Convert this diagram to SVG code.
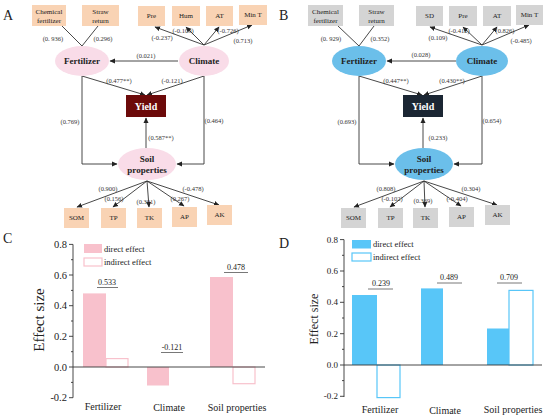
<svg xmlns="http://www.w3.org/2000/svg" width="550" height="419" viewBox="0 0 550 419">
<defs>
<marker id="ah" markerWidth="6" markerHeight="6" refX="5" refY="3" orient="auto" markerUnits="userSpaceOnUse"><path d="M0,0.5 L5.5,3 L0,5.5 Z" fill="#222"/></marker>
<style>
text{font-family:"Liberation Serif","Times New Roman",serif;fill:#222}
.lbl{font-size:14px}
.bx{font-size:7px;text-anchor:middle}
.co{font-size:6.5px;text-anchor:middle;fill:#333}
.el{font-size:9px;font-weight:bold;text-anchor:middle}
.yl{font-size:10px;font-weight:bold;text-anchor:middle;fill:#fff}
.ln{stroke:#333;stroke-width:0.9;fill:none}
.arr{stroke:#333;stroke-width:0.9;fill:none;marker-end:url(#ah)}
.boxA{fill:#F9D3B4}
.boxB{fill:#D4D4D4}
.elA{fill:#F9DCE8}
.elB{fill:#6BBFEA}
.tk{font-size:9px;text-anchor:end}
.tkc{font-size:10.5px;text-anchor:end}
.ax{stroke:#333;stroke-width:0.9;fill:none}
.xl{font-size:10px;text-anchor:middle}
.lg{font-size:8.5px}
.an{font-size:8px;text-anchor:middle}
.anl{stroke:#555;stroke-width:0.8}
.pk{fill:#F8C1CC}
.pko{fill:#fff;stroke:#F8C1CC;stroke-width:1.2}
.bl{fill:#58C6F8}
.blo{fill:#fff;stroke:#58C6F8;stroke-width:1.2}
</style>
</defs>

<!-- Panel labels -->
<text class="lbl" x="3" y="20">A</text>
<text class="lbl" x="279" y="20">B</text>
<text class="lbl" x="3" y="243">C</text>
<text class="lbl" x="279" y="248">D</text>

<!-- ===== Panel A connectors ===== -->
<g id="connectors-A">
<line class="ln" x1="62" y1="26" x2="82" y2="46"/>
<line class="ln" x1="98" y1="26" x2="82" y2="46"/>
<line class="arr" x1="204" y1="45" x2="155" y2="27"/>
<line class="arr" x1="204" y1="45" x2="186" y2="27"/>
<line class="arr" x1="204" y1="45" x2="219" y2="27"/>
<line class="arr" x1="204" y1="45" x2="252" y2="25"/>
<line class="arr" x1="178" y1="61" x2="110" y2="61"/>
<line class="arr" x1="82" y1="76" x2="145" y2="95"/>
<line class="arr" x1="204" y1="76" x2="147" y2="95"/>
<polyline class="arr" points="82,76 82,164 117,164"/>
<polyline class="arr" points="204,76 204,164 177,164"/>
<line class="arr" x1="146" y1="148" x2="146" y2="118"/>
<line class="arr" x1="147" y1="181" x2="77" y2="207"/>
<line class="arr" x1="147" y1="181" x2="113" y2="207"/>
<line class="arr" x1="147" y1="181" x2="149" y2="207"/>
<line class="arr" x1="147" y1="181" x2="184" y2="206"/>
<line class="arr" x1="147" y1="181" x2="219" y2="205"/>
<text class="co" x="53" y="41">(0. 936)</text>
<text class="co" x="103" y="41">(0.296)</text>
<text class="co" x="162" y="40">(-0.237)</text>
<text class="co" x="183" y="33">(-0.109)</text>
<text class="co" x="228" y="33">(-0.726)</text>
<text class="co" x="243" y="43">(0.713)</text>
<text class="co" x="146" y="58">(0.021)</text>
<text class="co" x="119" y="83">(0.477**)</text>
<text class="co" x="172" y="83">(-0.121)</text>
<text class="co" x="70" y="124">(0.769)</text>
<text class="co" x="214" y="123">(0.464)</text>
<text class="co" x="161" y="140">(0.587**)</text>
<text class="co" x="108" y="191">(0.900)</text>
<text class="co" x="114" y="201">(0.156)</text>
<text class="co" x="146" y="204">(0.301)</text>
<text class="co" x="180" y="201">(0.267)</text>
<text class="co" x="193" y="191">(-0.478)</text>
</g>

<!-- Panel A nodes -->
<g id="A-chem"><rect class="boxA" x="32" y="5" width="34" height="21"/><text class="bx" x="49" y="14">Chemical</text><text class="bx" x="49" y="23">fertilizer</text></g>
<g id="A-straw"><rect class="boxA" x="82" y="5" width="37" height="21"/><text class="bx" x="100.5" y="14">Straw</text><text class="bx" x="100.5" y="23">return</text></g>
<g id="A-pre"><rect class="boxA" x="138" y="6" width="27" height="20"/><text class="bx" x="151.5" y="18">Pre</text></g>
<g id="A-hum"><rect class="boxA" x="172" y="6" width="28" height="20"/><text class="bx" x="186" y="18">Hum</text></g>
<g id="A-at"><rect class="boxA" x="206" y="6" width="27" height="20"/><text class="bx" x="219.5" y="18">AT</text></g>
<g id="A-mint"><rect class="boxA" x="239" y="5" width="28" height="20"/><text class="bx" x="253" y="17">Min T</text></g>
<g id="A-fert"><ellipse class="elA" cx="82" cy="61" rx="27" ry="15"/><text class="el" x="82" y="64">Fertilizer</text></g>
<g id="A-clim"><ellipse class="elA" cx="204" cy="61" rx="25" ry="15"/><text class="el" x="204" y="64">Climate</text></g>
<g id="A-yield"><rect x="126" y="95" width="40" height="22" fill="#6C0A0A"/><text class="yl" x="146" y="110">Yield</text></g>
<g id="A-soil"><ellipse class="elA" cx="147" cy="164" rx="29" ry="16"/><text class="el" x="147" y="162">Soil</text><text class="el" x="147" y="173">properties</text></g>
<g id="A-som"><rect class="boxA" x="64" y="208" width="25" height="20"/><text class="bx" x="76.5" y="220">SOM</text></g>
<g id="A-tp"><rect class="boxA" x="101" y="208" width="25" height="20"/><text class="bx" x="113.5" y="220">TP</text></g>
<g id="A-tk"><rect class="boxA" x="137" y="208" width="25" height="20"/><text class="bx" x="149.5" y="220">TK</text></g>
<g id="A-ap"><rect class="boxA" x="172" y="207" width="25" height="20"/><text class="bx" x="184.5" y="219">AP</text></g>
<g id="A-ak"><rect class="boxA" x="207" y="205" width="25" height="20"/><text class="bx" x="219.5" y="217">AK</text></g>

<!-- ===== Panel B connectors ===== -->
<g id="connectors-B">
<line class="ln" x1="338" y1="26" x2="359" y2="46"/>
<line class="ln" x1="374" y1="26" x2="359" y2="46"/>
<line class="arr" x1="482" y1="45" x2="430" y2="27"/>
<line class="arr" x1="482" y1="45" x2="463" y2="27"/>
<line class="arr" x1="482" y1="45" x2="497" y2="27"/>
<line class="arr" x1="482" y1="45" x2="529" y2="25"/>
<line class="arr" x1="456" y1="61" x2="387" y2="61"/>
<line class="arr" x1="359" y1="76" x2="422" y2="95"/>
<line class="arr" x1="482" y1="76" x2="424" y2="95"/>
<polyline class="arr" points="359,76 359,164 394,164"/>
<polyline class="arr" points="482,76 482,164 454,164"/>
<line class="arr" x1="423" y1="148" x2="423" y2="118"/>
<line class="arr" x1="424" y1="181" x2="354" y2="207"/>
<line class="arr" x1="424" y1="181" x2="390" y2="207"/>
<line class="arr" x1="424" y1="181" x2="425" y2="207"/>
<line class="arr" x1="424" y1="181" x2="461" y2="206"/>
<line class="arr" x1="424" y1="181" x2="497" y2="205"/>
<text class="co" x="331" y="41">(0. 929)</text>
<text class="co" x="380" y="41">(0.352)</text>
<text class="co" x="438" y="40">(0.109)</text>
<text class="co" x="459" y="33">(-0.412)</text>
<text class="co" x="505" y="33">(0.826)</text>
<text class="co" x="521" y="43">(-0.485)</text>
<text class="co" x="421" y="57">(0.028)</text>
<text class="co" x="396" y="83">(0.447**)</text>
<text class="co" x="452" y="83">(0.430**)</text>
<text class="co" x="347" y="124">(0.693)</text>
<text class="co" x="492" y="123">(0.654)</text>
<text class="co" x="438" y="140">(0.233)</text>
<text class="co" x="386" y="191">(0.808)</text>
<text class="co" x="392" y="201">(-0.102)</text>
<text class="co" x="423" y="203">(0.369)</text>
<text class="co" x="457" y="201">(-0.404)</text>
<text class="co" x="471" y="191">(0.304)</text>
</g>

<!-- Panel B nodes -->
<g id="B-chem"><rect class="boxB" x="308" y="5" width="35" height="21"/><text class="bx" x="325.5" y="14">Chemical</text><text class="bx" x="325.5" y="23">fertilizer</text></g>
<g id="B-straw"><rect class="boxB" x="359" y="5" width="35" height="21"/><text class="bx" x="376.5" y="14">Straw</text><text class="bx" x="376.5" y="23">return</text></g>
<g id="B-sd"><rect class="boxB" x="416" y="6" width="27" height="20"/><text class="bx" x="429.5" y="18">SD</text></g>
<g id="B-pre"><rect class="boxB" x="449" y="6" width="28" height="20"/><text class="bx" x="463" y="18">Pre</text></g>
<g id="B-at"><rect class="boxB" x="483" y="6" width="28" height="20"/><text class="bx" x="497" y="18">AT</text></g>
<g id="B-mint"><rect class="boxB" x="516" y="5" width="27" height="20"/><text class="bx" x="529.5" y="17">Min T</text></g>
<g id="B-fert"><ellipse class="elB" cx="359" cy="61" rx="27" ry="15"/><text class="el" x="359" y="64">Fertilizer</text></g>
<g id="B-clim"><ellipse class="elB" cx="482" cy="61" rx="26" ry="15"/><text class="el" x="482" y="64">Climate</text></g>
<g id="B-yield"><rect x="403" y="95" width="40" height="22" fill="#1B2633"/><text class="yl" x="423" y="110">Yield</text></g>
<g id="B-soil"><ellipse class="elB" cx="424" cy="164" rx="29" ry="16"/><text class="el" x="424" y="162">Soil</text><text class="el" x="424" y="173">properties</text></g>
<g id="B-som"><rect class="boxB" x="341" y="208" width="25" height="20"/><text class="bx" x="353.5" y="220">SOM</text></g>
<g id="B-tp"><rect class="boxB" x="378" y="208" width="25" height="20"/><text class="bx" x="390.5" y="220">TP</text></g>
<g id="B-tk"><rect class="boxB" x="413" y="208" width="25" height="20"/><text class="bx" x="425.5" y="220">TK</text></g>
<g id="B-ap"><rect class="boxB" x="449" y="207" width="25" height="20"/><text class="bx" x="461.5" y="219">AP</text></g>
<g id="B-ak"><rect class="boxB" x="485" y="205" width="25" height="20"/><text class="bx" x="497.5" y="217">AK</text></g>

<!-- ===== Panel C chart ===== -->
<g id="chart-C">
<rect class="pk" x="83" y="293.4" width="23" height="73.6"/>
<rect class="pko" x="106" y="358.6" width="22" height="8.4"/>
<rect class="pk" x="147" y="367" width="22" height="18.5"/>
<rect class="pk" x="210" y="277" width="23" height="90"/>
<rect class="pko" x="233" y="367" width="22" height="16.7"/>
<path class="ax" d="M73,244.4 V397.7 M73,367 H265"/>
<path class="ax" d="M69,244.4 H73 M69,275 H73 M69,305.7 H73 M69,336.3 H73 M69,367 H73 M69,397.7 H73 M71,259.7 H73 M71,290.4 H73 M71,321 H73 M71,351.7 H73 M71,382.4 H73"/>
<text class="tkc" x="67" y="248">0.8</text>
<text class="tkc" x="67" y="278.5">0.6</text>
<text class="tkc" x="67" y="309.2">0.4</text>
<text class="tkc" x="67" y="339.8">0.2</text>
<text class="tkc" x="67" y="370.5">0.0</text>
<text class="tkc" x="67" y="401.2">-0.2</text>
<text x="44" y="320" font-size="15" text-anchor="middle" transform="rotate(-90 44 320)">Effect size</text>
<text class="xl" x="103" y="410">Fertilizer</text>
<text class="xl" x="169" y="411">Climate</text>
<text class="xl" x="237" y="411">Soil properties</text>
<rect class="pk" x="84" y="244" width="18" height="9"/>
<rect class="pko" x="84" y="258" width="18" height="8"/>
<text class="lg" x="104" y="252">direct effect</text>
<text class="lg" x="104" y="265">indirect effect</text>
<text class="an" x="107" y="285">0.533</text>
<line class="anl" x1="97" y1="287.5" x2="118" y2="287.5"/>
<text class="an" x="172" y="350">-0.121</text>
<line class="anl" x1="161" y1="352.5" x2="183" y2="352.5"/>
<text class="an" x="236" y="270">0.478</text>
<line class="anl" x1="224" y1="272.5" x2="248" y2="272.5"/>
</g>

<!-- ===== Panel D chart ===== -->
<g id="chart-D">
<rect class="bl" x="352" y="295" width="25" height="70"/>
<rect class="blo" x="377" y="365" width="23" height="32.6"/>
<rect class="bl" x="421" y="288.4" width="22" height="76.6"/>
<rect class="bl" x="487" y="328.5" width="22" height="36.5"/>
<rect class="blo" x="509" y="290.4" width="24" height="74.6"/>
<path class="ax" d="M344,239.6 V397 M344,365 H542"/>
<path class="ax" d="M340,239.6 H344 M340,271 H344 M340,302.3 H344 M340,333.7 H344 M340,365 H344 M340,396.3 H344 M342,255.3 H344 M342,286.6 H344 M342,318 H344 M342,349.3 H344 M342,380.6 H344"/>
<text class="tk" x="338" y="242.6">0.8</text>
<text class="tk" x="338" y="274">0.6</text>
<text class="tk" x="338" y="305.3">0.4</text>
<text class="tk" x="338" y="336.7">0.2</text>
<text class="tk" x="338" y="368">0.0</text>
<text class="tk" x="338" y="399.3">-0.2</text>
<text x="318" y="319" font-size="12" text-anchor="middle" transform="rotate(-90 318 319)">Effect size</text>
<text class="xl" x="380" y="413">Fertilizer</text>
<text class="xl" x="445" y="414">Climate</text>
<text class="xl" x="513" y="413">Soil properties</text>
<rect class="bl" x="352" y="240" width="19" height="8.5"/>
<rect class="blo" x="352" y="253" width="19" height="8"/>
<text class="lg" x="373" y="247">direct effect</text>
<text class="lg" x="373" y="260">indirect effect</text>
<text class="an" x="381" y="286">0.239</text>
<line class="anl" x1="368" y1="289" x2="393" y2="289"/>
<text class="an" x="449" y="280">0.489</text>
<line class="anl" x1="437" y1="283" x2="462" y2="283"/>
<text class="an" x="509" y="280">0.709</text>
<line class="anl" x1="497" y1="283" x2="522" y2="283"/>
</g>
</svg>
